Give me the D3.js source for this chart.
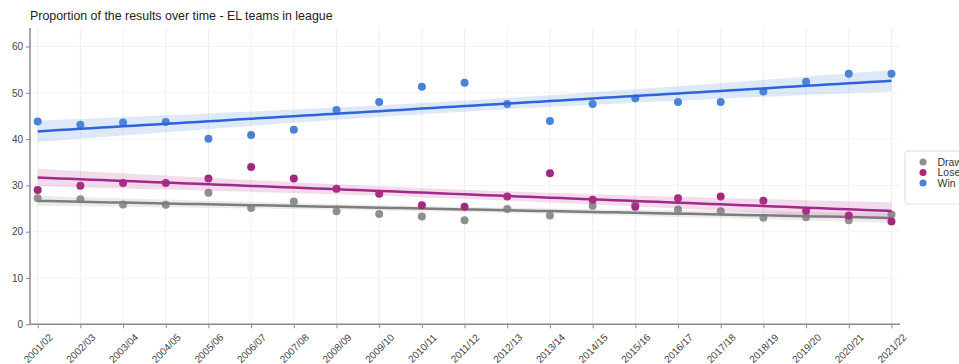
<!DOCTYPE html>
<html>
<head>
<meta charset="utf-8">
<script src="https://cdn.jsdelivr.net/npm/d3@7"></script>
<style>
  html, body { margin: 0; padding: 0; background: #fff; overflow: hidden; }
  svg { display: block; font-family: "Liberation Sans", Arial, sans-serif; }
</style>
</head>
<body>
<svg id="chart" width="959" height="364"></svg>
<script>
// Seasons on the x axis
const seasons = ["2001/02","2002/03","2003/04","2004/05","2005/06","2006/07","2007/08",
  "2008/09","2009/10","2010/11","2011/12","2012/13","2013/14","2014/15","2015/16",
  "2016/17","2017/18","2018/19","2019/20","2020/21","2021/22"];

// Share of results (%) per season
const drawPct = [27.2, 27.0, 25.9, 25.8, 28.4, 25.1, 26.5, 24.4, 23.8, 23.3, 22.5,
  24.9, 23.5, 25.6, 25.8, 24.8, 24.4, 23.0, 23.1, 22.5, 23.7];
const losePct = [29.0, 29.9, 30.5, 30.5, 31.5, 34.0, 31.5, 29.3, 28.2, 25.7, 25.4,
  27.6, 32.6, 26.9, 25.4, 27.2, 27.6, 26.7, 24.5, 23.5, 22.2];
const winPct  = [43.8, 43.1, 43.6, 43.7, 40.1, 40.9, 42.0, 46.3, 48.0, 51.3, 52.2,
  47.6, 43.9, 47.6, 48.8, 48.0, 48.0, 50.3, 52.4, 54.1, 54.1];

const yTicks = [0, 10, 20, 30, 40, 50, 60];
const titleText = "Proportion of the results over time - EL teams in league";

const series = [
  { name: "Draw", values: drawPct, point: "#8f8f8f", line: "#7d7d7d", band: "#9a9a9a" },
  { name: "Lose", values: losePct, point: "#a3287d", line: "#a3288a", band: "#c0509f" },
  { name: "Win",  values: winPct,  point: "#4a83d6", line: "#2f63dc", band: "#5b8fd8" }
];

const svg = d3.select("#chart");
const plotLeft = 30, plotRight = 900, plotTop = 28, plotBottom = 324.3;

const x = d3.scaleLinear().domain([-0.18, 20.2]).range([plotLeft, plotRight]);
const y = d3.scaleLinear().domain([0, 64]).range([plotBottom, plotTop]);

// Title
svg.append("text")
  .attr("x", 30).attr("y", 20)
  .attr("font-size", 12.4).attr("fill", "#222")
  .text(titleText);

// Grid lines
const gridG = svg.append("g");
gridG.selectAll("line.v").data(seasons).join("line").attr("class", "v")
  .attr("x1", (d, i) => x(i)).attr("x2", (d, i) => x(i))
  .attr("y1", plotTop).attr("y2", plotBottom)
  .attr("stroke", "#efefef").attr("stroke-width", 1);
gridG.selectAll("line.h").data(yTicks.filter(t => t > 0)).join("line").attr("class", "h")
  .attr("x1", plotLeft).attr("x2", plotRight)
  .attr("y1", d => y(d)).attr("y2", d => y(d))
  .attr("stroke", "#f3f3f3").attr("stroke-width", 1);

// Least-squares fit with a 95% confidence band
function fit(vals) {
  const n = vals.length;
  const xs = vals.map((v, i) => i);
  const mx = d3.mean(xs), my = d3.mean(vals);
  let sxx = 0, sxy = 0;
  xs.forEach((xi, i) => { sxx += (xi - mx) ** 2; sxy += (xi - mx) * (vals[i] - my); });
  const b = sxy / sxx, a = my - b * mx;
  let sse = 0;
  xs.forEach((xi, i) => { sse += (vals[i] - (a + b * xi)) ** 2; });
  const s = Math.sqrt(sse / (n - 2));
  const t = 2.093;
  const steps = d3.range(0, 20.001, 0.25);
  return steps.map(g => {
    const yhat = a + b * g;
    const se = s * Math.sqrt(1 / n + (g - mx) ** 2 / sxx);
    return { x: g, y: yhat, lo: yhat - t * se, hi: yhat + t * se };
  });
}

const plot = svg.append("g");
series.forEach(s => {
  const f = fit(s.values);
  const g = plot.append("g");
  g.selectAll("circle").data(s.values).join("circle")
    .attr("cx", (d, i) => x(i)).attr("cy", d => y(d))
    .attr("r", 4).attr("fill", s.point);
  g.append("path").datum(f)
    .attr("d", d3.area().x(d => x(d.x)).y0(d => y(d.lo)).y1(d => y(d.hi)))
    .attr("fill", s.band).attr("opacity", 0.2);
  g.append("path").datum(f)
    .attr("d", d3.line().x(d => x(d.x)).y(d => y(d.y)))
    .attr("fill", "none").attr("stroke", s.line).attr("stroke-width", 2.5);
});

// Axes
const axisColor = "#8a8a8a";
const yAxis = svg.append("g").attr("transform", `translate(${plotLeft},0)`)
  .call(d3.axisLeft(y).tickValues(yTicks).tickSize(4).tickPadding(3));
yAxis.select(".domain").attr("stroke", axisColor).attr("stroke-width", 1.5)
  .attr("d", `M0,${plotTop}V${plotBottom}`);
yAxis.selectAll(".tick line").attr("stroke", axisColor);
yAxis.selectAll(".tick text").attr("font-size", 10).attr("fill", "#444")
  .attr("font-family", "Liberation Sans, Arial, sans-serif");

const xAxis = svg.append("g").attr("transform", `translate(0,${plotBottom})`)
  .call(d3.axisBottom(x).tickValues(d3.range(seasons.length))
    .tickFormat(i => seasons[i]).tickSize(4));
xAxis.select(".domain").attr("stroke", axisColor).attr("stroke-width", 1.5)
  .attr("d", `M${plotLeft},0H${plotRight}`);
xAxis.selectAll(".tick line").attr("stroke", axisColor);
xAxis.selectAll(".tick text")
  .attr("font-size", 10).attr("fill", "#444")
  .attr("font-family", "Liberation Sans, Arial, sans-serif")
  .attr("text-anchor", "middle")
  .attr("y", 0).attr("dy", "0.35em")
  .attr("transform", "translate(0,24) rotate(-45)");

// Legend
const legend = svg.append("g").attr("transform", "translate(905,151)");
legend.append("rect")
  .attr("x", 0).attr("y", 0).attr("width", 80).attr("height", 53)
  .attr("rx", 3).attr("fill", "#fff").attr("stroke", "#dcdcdc");
series.forEach((s, i) => {
  const row = legend.append("g").attr("transform", `translate(0,${11 + i * 10.5})`);
  row.append("circle").attr("cx", 18).attr("cy", 0).attr("r", 3.5).attr("fill", s.point);
  row.append("text").attr("x", 32.5).attr("y", 0).attr("dy", "0.35em")
    .attr("font-size", 10.5).attr("fill", "#333").text(s.name);
});
</script>
</body>
</html>
